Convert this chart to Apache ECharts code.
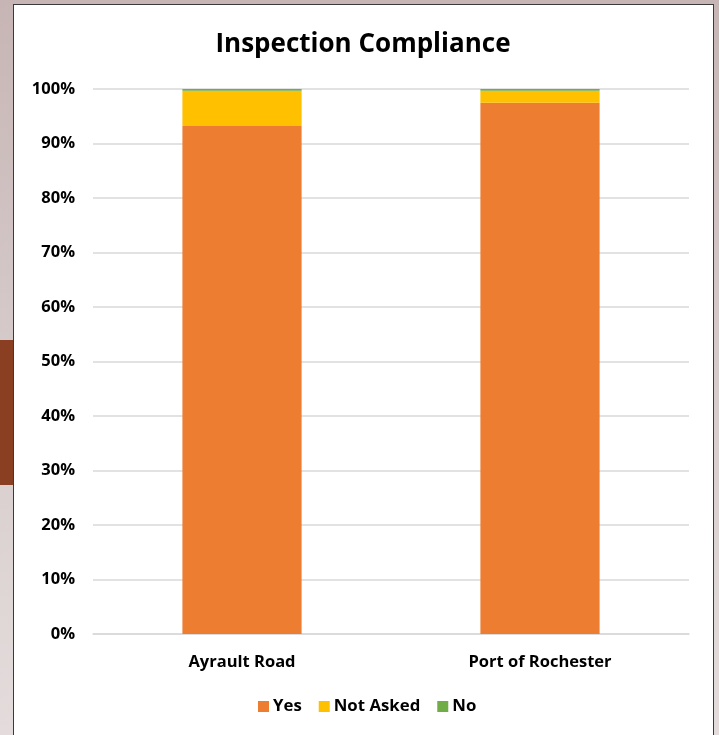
<!DOCTYPE html>
<html>
<head>
<meta charset="utf-8">
<script src="https://cdn.jsdelivr.net/npm/echarts@6/dist/echarts.min.js"></script>
<style>
  html, body { margin: 0; padding: 0; width: 719px; height: 735px; overflow: hidden; }
  body { background: linear-gradient(to bottom, #c7b5b5 0%, #d6cbcb 50%, #e4dcdc 100%); position: relative; }
  #accent { position: absolute; left: 0; top: 340px; width: 14px; height: 145px; background: #8a3f22; }
  #panel { position: absolute; left: 13px; top: 4px; width: 699px; height: 740px; background: #fff; border: 1px solid #3a3a3a; }
  #chart { position: absolute; left: 0; top: 0; width: 719px; height: 735px; }
</style>
</head>
<body>
<div id="accent"></div>
<div id="panel"></div>
<div id="chart"></div>
<script>
// Share of inspections per site, in percent
const sites = ['Ayrault Road', 'Port of Rochester'];
const yesValues = [93.2, 97.5];
const notAskedValues = [6.5, 2.2];
const noValues = [0.3, 0.3];
const seriesNames = ['Yes', 'Not Asked', 'No'];
const seriesColors = ['#ed7d31', '#ffc000', '#70ad47'];

const FONT = '"Open Sans", Lato, sans-serif';
const chart = echarts.init(document.getElementById('chart'), null, { renderer: 'canvas' });

const seriesData = [yesValues, notAskedValues, noValues];
chart.setOption({
  backgroundColor: 'transparent',
  animation: false,
  title: {
    text: 'Inspection Compliance',
    left: 358, top: 27, textAlign: 'center',
    textStyle: { fontFamily: FONT, fontSize: 26, fontWeight: 'bold', color: '#000' }
  },
  legend: {
    data: seriesNames,
    bottom: 15, left: 253,
    itemWidth: 11, itemHeight: 11, itemGap: 17,
    icon: 'rect',
    textStyle: { fontFamily: FONT, fontSize: 16.8, fontWeight: 'bold', color: '#000', padding: [0, 0, 0, -1] }
  },
  grid: { left: 93, right: 30, top: 89, bottom: 101, containLabel: false },
  xAxis: {
    type: 'category', data: sites,
    axisLine: { show: true, lineStyle: { color: '#d9d9d9', width: 1.5 } },
    axisTick: { show: false },
    axisLabel: { fontFamily: FONT, fontSize: 16.5, fontWeight: 'bold', color: '#000', margin: 20 }
  },
  yAxis: {
    type: 'value', min: 0, max: 100, interval: 10,
    axisLine: { show: false }, axisTick: { show: false },
    axisLabel: { formatter: '{value}%', fontFamily: FONT, fontSize: 16.5, fontWeight: 'bold', color: '#000', margin: 18 },
    splitLine: { lineStyle: { color: '#d9d9d9', width: 1.5 } }
  },
  series: seriesNames.map((name, i) => ({
    name, type: 'bar', stack: 'total', barWidth: '40%',
    data: seriesData[i],
    itemStyle: { color: seriesColors[i] }
  }))
});
</script>
</body>
</html>
